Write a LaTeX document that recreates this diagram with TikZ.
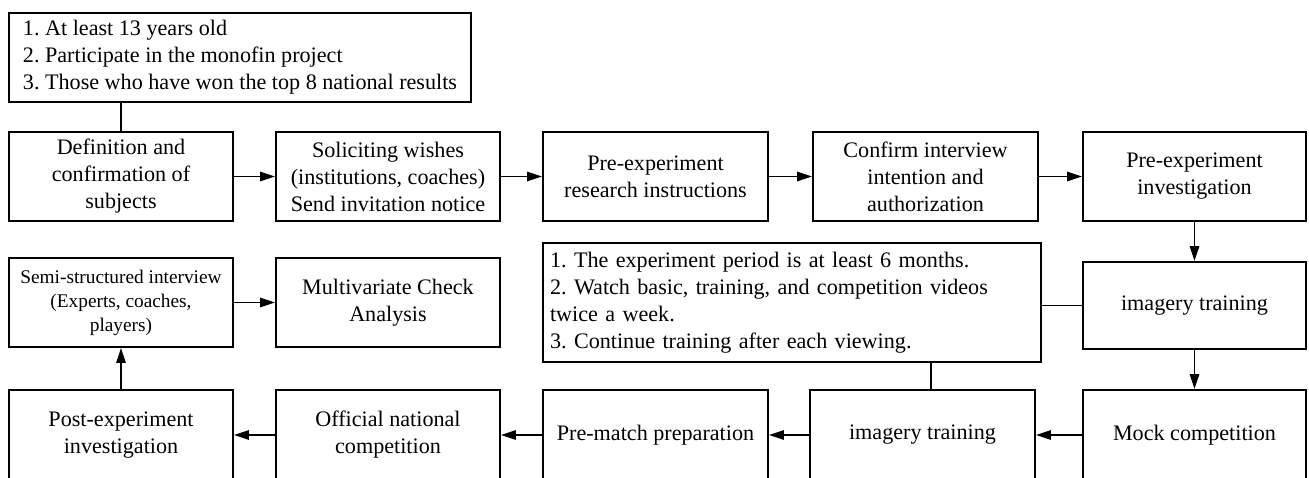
\documentclass[tikz,border=0pt]{standalone}
\usepackage{fontspec}
\setmainfont{Liberation Serif}
\frenchspacing
\usetikzlibrary{arrows.meta,positioning}
\tikzset{
  box/.style={draw,line width=1.1pt,align=center,inner sep=2pt,minimum width=4.48cm,minimum height=1.78cm,font=\fontsize{12.6}{15.4}\selectfont},
  listbox/.style={draw,line width=1.1pt,align=left,inner sep=3pt,font=\fontsize{12.6}{15.4}\selectfont},
  arrow/.style={-{Triangle[length=3mm,width=1.9mm]},line width=0.9pt},
  link/.style={line width=0.9pt},
}
\begin{document}
\begin{tikzpicture}[x=0.02cm,y=-0.02cm]
  \useasboundingbox (0,0) rectangle (1309,477);
  % criteria for subjects
  \node[listbox,minimum width=9.24cm,minimum height=1.78cm] (crit) at (240,57.5)
    {1. At least 13 years old\\2. Participate in the monofin project\\3. Those who have won the top 8 national results};
  % first row
  \node[box] (def) at (121,176.5) {Definition and\\confirmation of\\subjects};
  \node[box] (sol) at (388,176.5) {Soliciting wishes\\(institutions, coaches)\\Send invitation notice};
  \node[box,minimum width=4.5cm] (instr) at (655.5,176.5) {Pre-experiment\\research instructions};
  \node[box,minimum width=4.5cm] (conf) at (925.5,176.5) {Confirm interview\\intention and\\authorization};
  \node[box,minimum width=4.46cm] (preinv) at (1194.5,176.5) {Pre-experiment\\investigation};
  % second row
  \node[box,font=\fontsize{11}{13.6}\selectfont] (semi) at (121,302.5) {Semi-structured interview\\(Experts, coaches,\\players)};
  \node[box] (multi) at (388,302.5) {Multivariate Check\\Analysis};
  \node[listbox,inner sep=4pt,minimum width=9.96cm,minimum height=2.38cm,text width=9.68cm] (note) at (792,302.5)
    {1. The experiment period is at least 6 months.\\2. Watch basic, training, and competition videos\\twice a week.\\3. Continue training after each viewing.};
  \node[box,minimum width=4.46cm,minimum height=1.74cm] (img1) at (1194.5,305.5) {imagery training};
  % third row
  \node[box,minimum height=1.8cm] (post) at (121,435) {Post-experiment\\investigation};
  \node[box,minimum height=1.8cm] (off) at (388,435) {Official national\\competition};
  \node[box,minimum width=4.5cm,minimum height=1.8cm] (prem) at (655.5,435) {Pre-match preparation};
  \node[box,minimum width=4.5cm,minimum height=1.8cm] (img2) at (922.5,435) {imagery training};
  \node[box,minimum width=4.46cm,minimum height=1.8cm] (mock) at (1194.5,435) {Mock competition};
  % connectors
  \draw[link] (def.north) -- (def.north |- crit.south);
  \draw[arrow] (def) -- (sol);
  \draw[arrow] (sol) -- (instr);
  \draw[arrow] (instr) -- (conf);
  \draw[arrow] (conf) -- (preinv);
  \draw[arrow] (preinv) -- (img1);
  \draw[arrow] (img1) -- (mock);
  \draw[link] (note.east |- img1) -- (img1.west);
  \draw[arrow] (mock) -- (img2);
  \draw[link] ([xshift=0.17cm]img2.north) -- ([xshift=0.17cm]img2.north |- note.south);
  \draw[arrow] (img2) -- (prem);
  \draw[arrow] (prem) -- (off);
  \draw[arrow] (off) -- (post);
  \draw[arrow] (post) -- (semi);
  \draw[arrow] (semi) -- (multi);
\end{tikzpicture}
\end{document}
